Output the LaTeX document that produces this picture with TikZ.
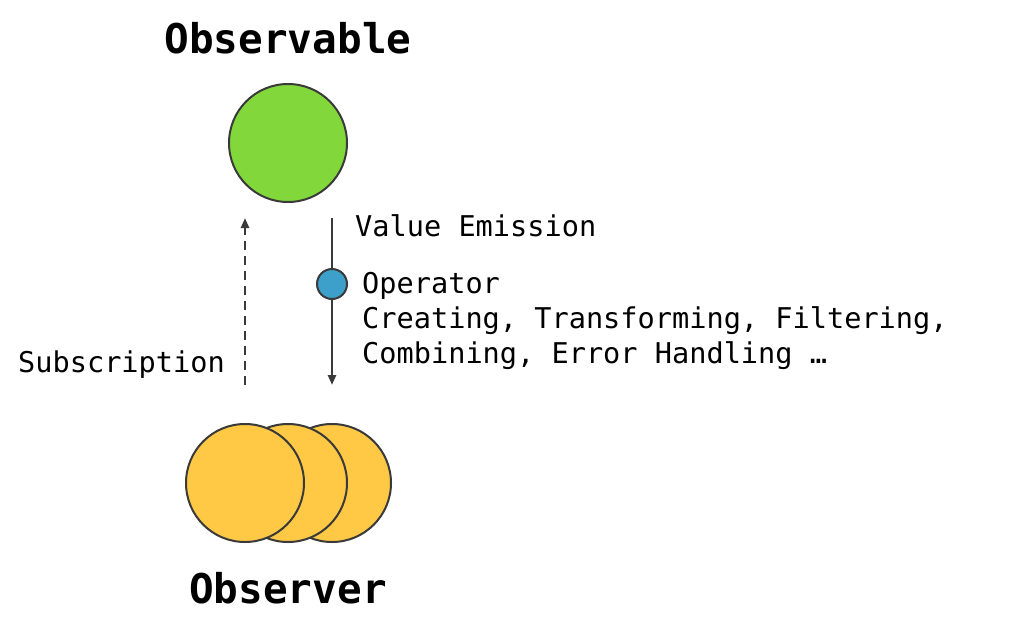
\documentclass[tikz,border=0pt]{standalone}
\usepackage{fontspec}
\setmonofont{DejaVu Sans Mono}
\usetikzlibrary{arrows.meta}
\definecolor{strk}{HTML}{3A3A3A}
\definecolor{grn}{HTML}{82D83A}
\definecolor{ylw}{HTML}{FFC845}
\definecolor{blu}{HTML}{3DA0CA}
\tikzset{
  ball/.style={circle,draw=strk,line width=2pt,minimum size=118pt,inner sep=0pt},
  title/.style={font=\ttfamily\bfseries\fontsize{41}{45}\selectfont},
  lbl/.style={font=\ttfamily\fontsize{28.6}{35}\selectfont,inner sep=0pt},
  arr/.style={draw=strk,line width=2.5pt,-{Triangle[length=10pt,width=8pt]}}
}
\begin{document}
\begin{tikzpicture}[x=1pt,y=-1pt]
\useasboundingbox[fill=white] (0,0) rectangle (1035,637);
\node[title] (t1) at (288,38) {Observable};
\node[ball,fill=grn] (obs) at (288,143) {};
\coordinate (sa) at (245,385);
\coordinate (sb) at (245,218);
\draw[arr,dashed,dash pattern=on 9pt off 6pt] (sa) -- (sb);
\coordinate (va) at (332,218);
\coordinate (vb) at (332,385);
\draw[arr] (va) -- (vb);
\node[circle,draw=strk,line width=2pt,fill=blu,minimum size=30pt,inner sep=0pt] (op) at (332,284) {};
\node[lbl,anchor=base west] (ve) at (355,236) {Value Emission};
\node[lbl,anchor=north west,align=left] (opt) at (362,272) {Operator\\Creating, Transforming, Filtering,\\Combining, Error Handling …};
\node[lbl,anchor=base east] (sub) at (225,372) {Subscription};
\node[ball,fill=ylw] (o3) at (332,483) {};
\node[ball,fill=ylw] (o2) at (288,483) {};
\node[ball,fill=ylw] (o1) at (245,483) {};
\node[title] (t2) at (288,588) {Observer};
\end{tikzpicture}
\end{document}
